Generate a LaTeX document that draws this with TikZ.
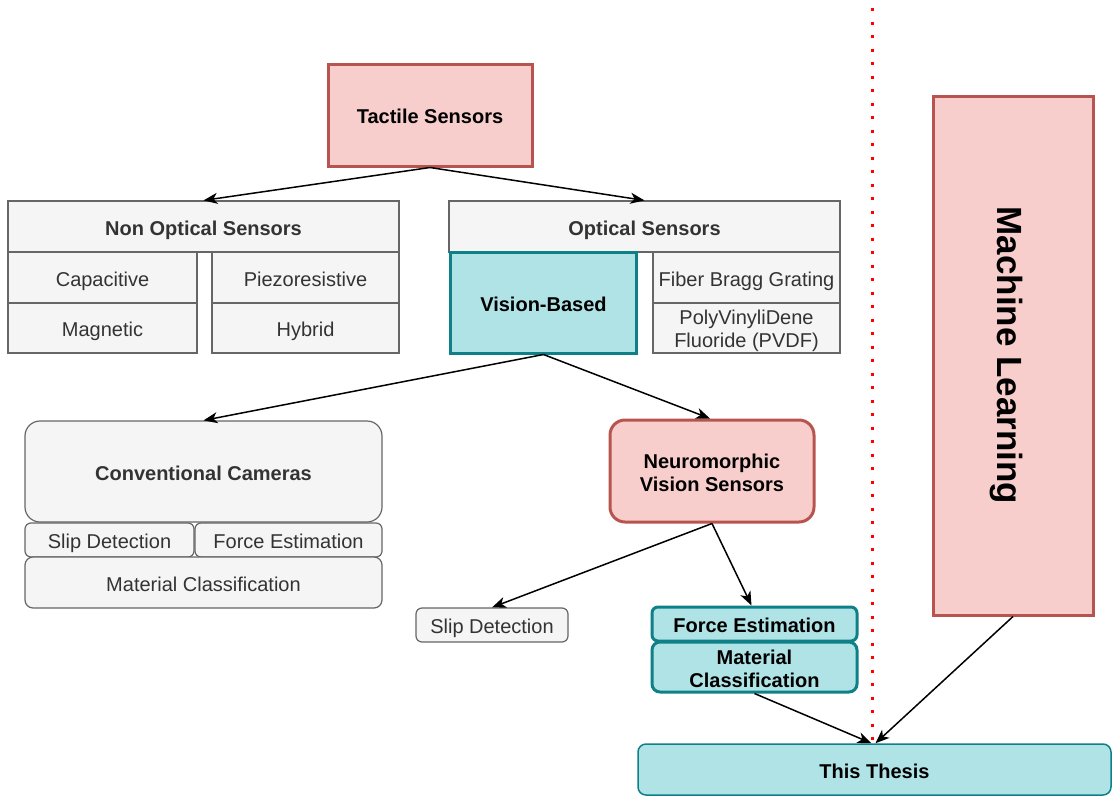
\documentclass[tikz,border=0pt]{standalone}
\usepackage{fontspec}
\setmainfont{Liberation Sans}
\usetikzlibrary{arrows.meta}
\definecolor{grayfill}{HTML}{F5F5F5}
\definecolor{graystroke}{HTML}{666666}
\definecolor{graytext}{HTML}{333333}
\definecolor{redfill}{HTML}{F8CECC}
\definecolor{redstroke}{HTML}{B85450}
\definecolor{tealfill}{HTML}{B0E3E6}
\definecolor{tealstroke}{HTML}{0E8088}
\newcommand{\twolines}[2]{\begin{tabular}[b]{@{}c@{}}#1\\#2\end{tabular}}
\tikzset{
  base/.style={inner sep=0pt, font=\fontsize{20}{23}\selectfont, text height=18pt, text depth=0.5pt},
  twoline/.style={text height=40pt, text depth=0pt},
  graybox/.style={base, draw=graystroke, fill=grayfill, text=graytext, line width=1.2pt},
  redbox/.style={base, draw=redstroke, fill=redfill, text=black, line width=3pt, font=\fontsize{20}{23}\selectfont\bfseries},
  tealbox/.style={base, draw=tealstroke, fill=tealfill, text=black, line width=3pt, font=\fontsize{20}{23}\selectfont\bfseries},
  hdr/.style={font=\fontsize{20}{23}\selectfont\bfseries},
  arr/.style={-{Stealth[length=14pt,width=11pt,inset=4pt]}, line width=1.5pt, black},
  sz/.style 2 args={minimum width=#1pt, minimum height=#2pt},
}
\begin{document}
\begin{tikzpicture}[x=1pt,y=-1pt]
\useasboundingbox (0,0) rectangle (1112,796);

% separator between the sensor survey and this work
\draw[red, line width=3pt, dash pattern=on 3pt off 10.5pt] (872,8) -- (872,744);

% top level
\node[redbox, sz={204}{102}] (tactile) at (430,115) {Tactile Sensors};

% non optical family
\node[graybox, hdr, sz={391}{51}] (nonopt) at (203.5,226.5) {Non Optical Sensors};
\node[graybox, sz={189}{51}] (cap) at (102.5,277.5) {Capacitive};
\node[graybox, sz={187}{51}] (piezo) at (305.5,277.5) {Piezoresistive};
\node[graybox, sz={189}{50}] (mag) at (102.5,328) {Magnetic};
\node[graybox, sz={187}{50}] (hyb) at (305.5,328) {Hybrid};

% optical family
\node[graybox, hdr, sz={391}{51}] (opt) at (644.5,226.5) {Optical Sensors};
\node[graybox, sz={187}{51}] (fbg) at (746.5,277.5) {Fiber Bragg Grating};
\node[graybox, twoline, text depth=1pt, sz={187}{50}] (pvdf) at (746.5,328) {\twolines{PolyVinyliDene}{Fluoride (PVDF)}};
\node[tealbox, sz={186}{101}] (vision) at (543.5,302.5) {Vision-Based};

% conventional cameras
\node[graybox, hdr, rounded corners=15pt, sz={357}{101}] (conv) at (203.5,471.5) {Conventional Cameras};
\node[graybox, rounded corners=6pt, sz={169}{34}] (cslip) at (109.5,540) {Slip Detection};
\node[graybox, rounded corners=6pt, sz={187}{34}] (cforce) at (288.5,540) {Force Estimation};
\node[graybox, rounded corners=8pt, sz={357}{51}] (cmat) at (203.5,582.5) {Material Classification};

% neuromorphic sensors
\node[redbox, twoline, rounded corners=15pt, sz={204}{102}] (neuro) at (712,471) {\twolines{Neuromorphic}{Vision Sensors}};
\node[graybox, rounded corners=6pt, sz={152}{34}] (nslip) at (492,625) {Slip Detection};
\node[tealbox, rounded corners=6pt, sz={205}{34}] (nforce) at (754.5,624) {Force Estimation};
\node[tealbox, twoline, rounded corners=8pt, sz={205}{50}] (nmat) at (754.5,667) {\twolines{Material}{Classification}};

% machine learning and thesis
\node[redbox, sz={160}{519}] (ml) at (1013,355.5) {};
\node[rotate=-90, inner sep=0pt, font=\fontsize{35}{40}\selectfont\bfseries, text height=31.5pt, text depth=0.9pt] (mltext) at (ml.center) {Machine Learning};
\node[tealbox, line width=1.5pt, rounded corners=8pt, sz={473}{51}] (thesis) at (874.5,769.5) {This Thesis};

% connectors
\draw[arr] (tactile.south) -- (nonopt.north);
\draw[arr] (tactile.south) -- (opt.north);
\draw[arr] (vision.south) -- (conv.north);
\draw[arr] (vision.south) -- ([xshift=-2pt]neuro.north);
\draw[arr] (neuro.south) -- (nslip.north);
\draw[arr] (neuro.south) -- ([xshift=-3pt]nforce.north);
\draw[arr] (nmat.south) -- ([xshift=-3pt]thesis.north);
\draw[arr] (ml.south) -- ([xshift=1pt]thesis.north);
\end{tikzpicture}
\end{document}
